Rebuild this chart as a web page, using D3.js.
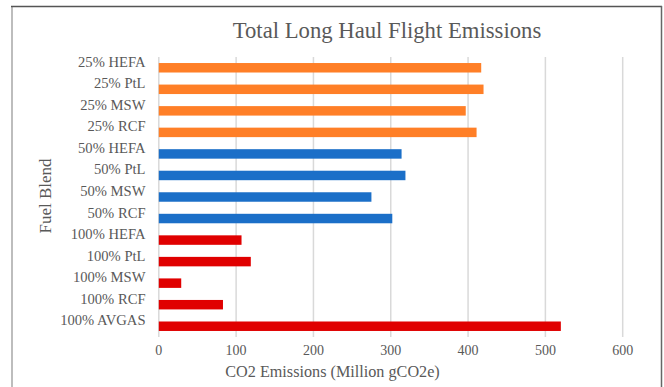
<!DOCTYPE html>
<html>
<head>
<meta charset="utf-8">
<script src="https://cdn.jsdelivr.net/npm/d3@7"></script>
<style>
  html, body { margin: 0; padding: 0; background: #fff; }
  svg { display: block; }
  text { font-family: "Liberation Serif", "Times New Roman", serif; fill: #595959; }
</style>
</head>
<body>
<svg id="chart" width="664" height="387"></svg>
<script>
// Fuel blend categories, top to bottom
const categories = [
  "25% HEFA", "25% PtL", "25% MSW", "25% RCF",
  "50% HEFA", "50% PtL", "50% MSW", "50% RCF",
  "100% HEFA", "100% PtL", "100% MSW", "100% RCF", "100% AVGAS"
];
// CO2 emissions, million gCO2e
const emissions = [417, 420, 397, 411, 314, 319, 275, 302, 107, 119, 29, 83, 520];
// Blend group of each category
const blendGroup = ["25", "25", "25", "25", "50", "50", "50", "50", "100", "100", "100", "100", "100"];
const xTicks = [0, 100, 200, 300, 400, 500, 600];

const groupColor = { "25": "#ff7f27", "50": "#1b6fc8", "100": "#e00000" };

const W = 664, H = 387;
const plot = { left: 158.8, right: 622.7, top: 57, bottom: 337 };

const svg = d3.select("#chart");

// Chart frame
svg.append("line").attr("x1", 12).attr("x2", 12).attr("y1", 6).attr("y2", H)
  .attr("stroke", "#bdbdbd").attr("stroke-width", 2);
svg.append("line").attr("x1", 11).attr("x2", 662).attr("y1", 6.5).attr("y2", 6.5)
  .attr("stroke", "#555").attr("stroke-width", 1.5);
svg.append("line").attr("x1", 661.5).attr("x2", 661.5).attr("y1", 6).attr("y2", H)
  .attr("stroke", "#666").attr("stroke-width", 1.5);

const x = d3.scaleLinear().domain([0, 600]).range([plot.left, plot.right]);
const y = d3.scaleBand().domain(categories).range([plot.top, plot.bottom])
  .paddingInner(0.56).paddingOuter(0.28);

// Vertical gridlines
svg.append("g").selectAll("line").data(xTicks).join("line")
  .attr("x1", d => x(d)).attr("x2", d => x(d))
  .attr("y1", plot.top).attr("y2", plot.bottom)
  .attr("stroke", "#d9d9d9").attr("stroke-width", 1.5);

// Bars
svg.append("g").selectAll("rect").data(categories).join("rect")
  .attr("x", x(0))
  .attr("y", d => y(d))
  .attr("width", (d, i) => x(emissions[i]) - x(0))
  .attr("height", y.bandwidth())
  .attr("fill", (d, i) => groupColor[blendGroup[i]]);

// Category labels
svg.append("g").selectAll("text").data(categories).join("text")
  .attr("x", 145.5)
  .attr("y", d => y(d) + y.bandwidth() / 2 - 1)
  .attr("text-anchor", "end")
  .attr("font-size", 14.6)
  .text(d => d);

// X tick labels
svg.append("g").selectAll("text").data(xTicks).join("text")
  .attr("x", d => x(d)).attr("y", 355)
  .attr("text-anchor", "middle")
  .attr("font-size", 14)
  .text(d => d);

// Titles
svg.append("text").attr("x", 387).attr("y", 38)
  .attr("text-anchor", "middle").attr("font-size", 22.7)
  .text("Total Long Haul Flight Emissions");

svg.append("text").attr("x", 332.5).attr("y", 377)
  .attr("text-anchor", "middle").attr("font-size", 16.2)
  .text("CO2 Emissions (Million gCO2e)");

svg.append("text")
  .attr("transform", "translate(50.5,196) rotate(-90)")
  .attr("text-anchor", "middle").attr("font-size", 17)
  .text("Fuel Blend");
</script>
</body>
</html>
